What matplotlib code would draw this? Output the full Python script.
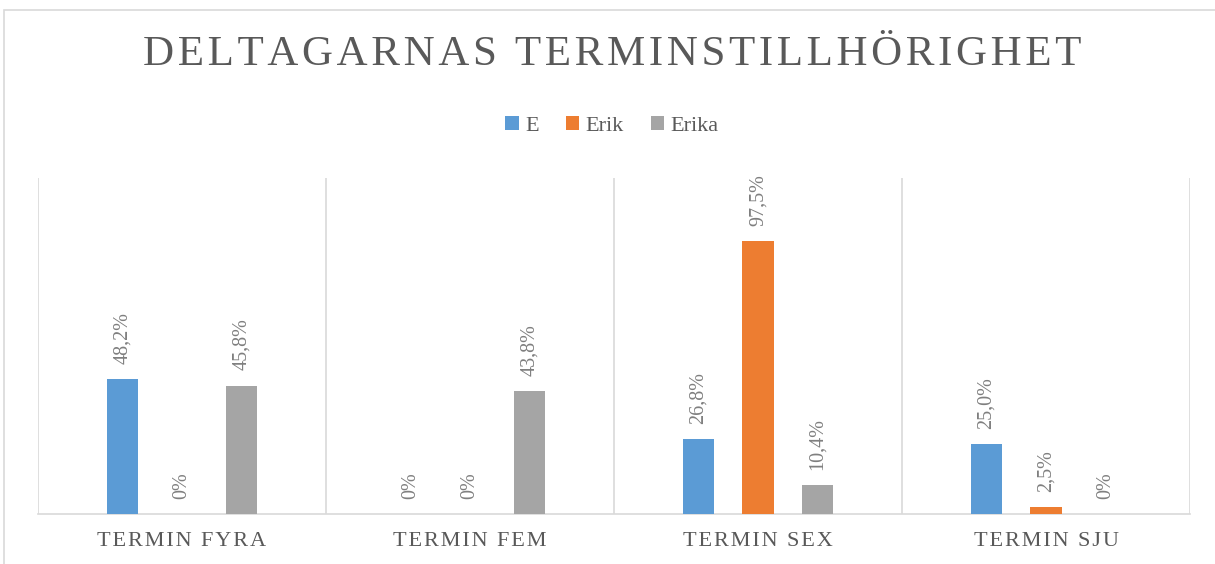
import matplotlib
matplotlib.use("Agg")
import matplotlib.pyplot as plt
import numpy as np
from matplotlib.patches import Rectangle

# data
categories = ["TERMIN FYRA", "TERMIN FEM", "TERMIN SEX", "TERMIN SJU"]
series_names = ["E", "Erik", "Erika"]
e_vals = [48.2, 0.0, 26.8, 25.0]
erik_vals = [0.0, 0.0, 97.5, 2.5]
erika_vals = [45.8, 43.8, 10.4, 0.0]
colors = ["#5B9BD5", "#ED7D31", "#A5A5A5"]

TEXT = "#595959"
GRID = "#D9D9D9"
HAIR = "\u200a"


def spaced(s, sep=HAIR):
    # fake letter spacing with hair spaces
    return sep.join(list(s))


def fmt(v):
    if v == 0:
        return "0%"
    return f"{v:.1f}%".replace(".", ",")


plt.rcParams["font.family"] = ["Liberation Serif", "DejaVu Serif"]

fig = plt.figure(figsize=(12.15, 5.64), dpi=100)
W, H = 1215, 564
ax = fig.add_axes([38 / W, 50 / H, (1190 - 38) / W, 336 / H])

# outer chart border (right and bottom run off the image)
fig.patches.append(Rectangle((4 / W, -0.2), 1.2, 0.2 + (H - 10) / H, transform=fig.transFigure,
                             fill=False, edgecolor=GRID, linewidth=1.2))

x = np.arange(len(categories))
offset = 0.207
width = 0.108
all_vals = [e_vals, erik_vals, erika_vals]
for i, (name, vals, c) in enumerate(zip(series_names, all_vals, colors)):
    pos = x + (i - 1) * offset
    ax.bar(pos, vals, width=width, color=c, label=name, zorder=3)
    for px, v in zip(pos, vals):
        ax.annotate(fmt(v), (px, v), xytext=(0, 11), textcoords="offset points",
                    rotation=90, ha="center", va="bottom", fontsize=14.5, color="#7F7F7F")

ax.set_xlim(-0.5, 3.5)
ax.set_ylim(0, 120)
ax.set_yticks([])
ax.set_xticks(x)
ax.set_xticklabels([spaced(c) for c in categories], fontsize=16, color=TEXT)
ax.tick_params(axis="x", length=0, pad=13)
ax.set_xticks(np.arange(-0.5, 4, 1), minor=True)
ax.tick_params(axis="x", which="minor", length=0)
ax.grid(True, axis="x", which="minor", color=GRID, linewidth=1.2)
for side in ["top", "left", "right"]:
    ax.spines[side].set_visible(False)
ax.spines["bottom"].set_color(GRID)
ax.spines["bottom"].set_linewidth(1.2)

fig.text(612 / W, (H - 55) / H, spaced("DELTAGARNAS TERMINSTILLHÖRIGHET"), ha="center", va="center",
         fontsize=31, color=TEXT)

fig.legend(loc="center", bbox_to_anchor=(612 / W, (H - 126) / H), ncol=3, frameon=False,
           prop={"family": "Liberation Serif", "size": 16}, labelcolor=TEXT,
           handlelength=0.6, handleheight=0.6, handletextpad=0.3, columnspacing=1.2)

fig.savefig("out.png", dpi=100)
